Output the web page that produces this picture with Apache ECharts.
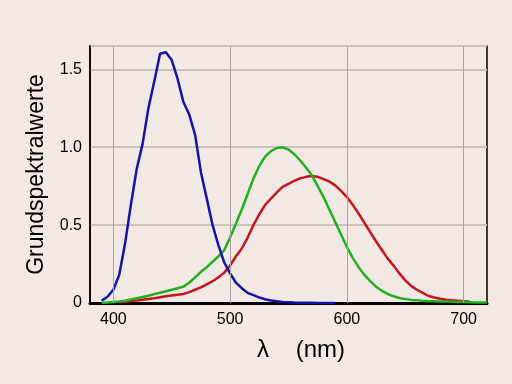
<!DOCTYPE html>
<html><head><meta charset="utf-8">
<script src="https://cdn.jsdelivr.net/npm/echarts@6/dist/echarts.min.js"></script>
<style>html,body{margin:0;padding:0;background:#f3e9e4;}#c{width:512px;height:384px;}</style>
</head><body><div id="c"></div>
<script>
// wavelengths (nm), 5 nm steps 390..720
var wavelengths = [];
for (var w = 390; w <= 720; w += 5) wavelengths.push(w);

var sCone = [0.015,0.04,0.085,0.18,0.38,0.63,0.86,1.02,1.25,1.42,1.60,1.61,1.56,1.44,1.29,1.21,1.08,0.84,0.67,0.50,0.37,0.26,0.19,0.13,0.095,0.065,0.05,0.035,0.024,0.016,0.011,0.007,0.005,0.003,0.002,0.001,0.001,0,0,0,0,
  null,null,null,null,null,null,null,null,null,null,null,null,null,null,null,null,null,null,null,null,null,null,null,null,null,null];

var mCone = [0.0,0.003,0.006,0.01,0.015,0.022,0.03,0.038,0.047,0.057,0.066,0.075,0.085,0.095,0.105,0.13,0.165,0.2,0.23,0.265,0.30,0.34,0.42,0.51,0.60,0.70,0.80,0.88,0.94,0.975,0.995,1.0,0.985,0.955,0.915,0.87,0.82,0.75,0.68,0.60,0.52,0.44,0.36,0.29,0.23,0.18,0.14,0.105,0.078,0.058,0.043,0.032,0.025,0.02,0.017,0.014,0.012,0.011,0.01,0.009,0.008,0.007,0.006,0.005,0.004,0.004,0.003];

var lCone = [null,null,null,0.005,0.008,0.012,0.016,0.021,0.026,0.031,0.037,0.043,0.048,0.053,0.058,0.07,0.085,0.10,0.12,0.14,0.165,0.195,0.24,0.30,0.35,0.42,0.50,0.57,0.63,0.67,0.71,0.745,0.765,0.785,0.80,0.81,0.815,0.81,0.795,0.78,0.755,0.72,0.68,0.63,0.575,0.515,0.455,0.395,0.34,0.285,0.24,0.19,0.145,0.11,0.085,0.065,0.045,0.035,0.027,0.021,0.017,0.014,0.012,0.01,null,null,null];

var xTicks = [400, 500, 600, 700];
var yTicks = [0, 0.5, 1.0, 1.5];
var yTickLabels = ['0', '0.5', '1.0', '1.5'];

function pairs(vals) {
  return wavelengths.map(function (w, i) { return [w, vals[i] === null ? null : vals[i]]; });
}

var chart = echarts.init(document.getElementById('c'), null, {renderer: 'canvas'});
var font = 'Liberation Sans, Arial, sans-serif';
chart.setOption({
  backgroundColor: '#f3e9e4',
  animation: false,
  grid: {left: 90, right: 25, top: 46, bottom: 81, show: true, borderColor: '#000', borderWidth: 1.5, backgroundColor: 'transparent'},
  xAxis: {
    type: 'value', min: 380, max: 720, interval: 20,
    name: 'λ    (nm)', nameLocation: 'middle', nameGap: 35,
    nameTextStyle: {fontFamily: font, fontSize: 24, color: '#000', padding: [0, 0, 0, 25]},
    axisLine: {show: true, onZero: false, lineStyle: {color: '#000', width: 3}},
    axisTick: {show: false},
    axisLabel: {fontFamily: font, fontSize: 16, color: '#000', margin: 9,
      formatter: function (v) { return xTicks.indexOf(v) >= 0 ? String(v) : ''; }},
    splitLine: {show: false}
  },
  yAxis: {
    type: 'value', min: 0, max: 1.65, interval: 0.5,
    name: 'Grundspektralwerte', nameLocation: 'middle', nameGap: 42, nameRotate: 90,
    nameTextStyle: {fontFamily: font, fontSize: 23, color: '#000'},
    axisLine: {show: true, lineStyle: {color: '#000', width: 1.5}},
    axisTick: {show: false},
    axisLabel: {fontFamily: font, fontSize: 16, color: '#000', margin: 8,
      formatter: function (v) { var i = yTicks.indexOf(Math.round(v * 100) / 100); return i >= 0 ? yTickLabels[i] : ''; }},
    splitLine: {show: true, lineStyle: {color: '#cdc1bb', width: 2}}
  },
  series: [
    {type: 'line', data: [], z: 1, markLine: {silent: true, symbol: 'none', label: {show: false},
      lineStyle: {color: '#aca4a2', width: 1, type: 'solid'},
      data: xTicks.map(function (t) { return {xAxis: t}; })}},
    {type: 'line', data: pairs(lCone), showSymbol: false, connectNulls: false, lineStyle: {color: '#c8141e', width: 2.5}, z: 2},
    {type: 'line', data: pairs(mCone), showSymbol: false, connectNulls: false, lineStyle: {color: '#20b020', width: 2.5}, z: 3},
    {type: 'line', data: pairs(sCone), showSymbol: false, connectNulls: false, lineStyle: {color: '#1414a8', width: 2.5}, z: 4}
  ]
});
</script></body></html>
